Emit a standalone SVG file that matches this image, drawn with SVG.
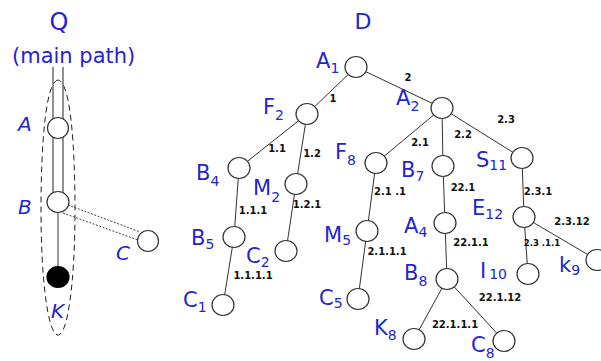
<svg xmlns="http://www.w3.org/2000/svg" width="601" height="361" viewBox="0 0 601 361">
<style>
.n{fill:#fff;stroke:#333;stroke-width:1.2}
.k{fill:#000;stroke:#000;stroke-width:1.2}
.e{stroke:#333;stroke-width:1;fill:none}
.dl{stroke:#555;stroke-width:1.3;fill:none}
.dot{stroke:#444;stroke-width:1;stroke-dasharray:2 1.5;fill:none}
.dash{stroke:#222;stroke-width:1;stroke-dasharray:6 4;fill:none}
.lbl{font-family:"DejaVu Sans",sans-serif;font-size:21px;fill:#2424d0}
.it{font-style:italic;font-size:20px}
.sub{font-size:14px}
.el{font-family:"DejaVu Sans",sans-serif;font-weight:bold;font-size:10px;fill:#111;text-anchor:middle}
</style>
<rect width="601" height="361" fill="#fff"/>
<text class="lbl" x="59" y="30" text-anchor="middle" style="font-size:24px">Q</text>
<text class="lbl" x="12" y="63" style="font-size:21px">(main path)</text>
<text class="lbl" x="363" y="29" text-anchor="middle" style="font-size:22px">D</text>

<g id="connectors">
  <path class="dash" d="M58,80 C45,82 41,150 41,210 C41,280 48,335 58,335 C68,335 75,280 75,210 C75,150 71,82 58,80 Z"/>
  <line class="dl" x1="53" y1="67" x2="53" y2="202"/>
  <line class="dl" x1="63" y1="67" x2="63" y2="202"/>
  <line class="e" x1="58" y1="202" x2="58" y2="277"/>
  <line class="dot" x1="68" y1="205" x2="140" y2="232"/>
  <line class="dot" x1="63" y1="213" x2="138" y2="240"/>

  <line class="e" x1="356" y1="67" x2="307" y2="114"/>
  <line class="e" x1="356" y1="67" x2="442" y2="108"/>
  <line class="e" x1="307" y1="114" x2="239" y2="168"/>
  <line class="e" x1="307" y1="114" x2="296" y2="184"/>
  <line class="e" x1="442" y1="108" x2="376" y2="163"/>
  <line class="e" x1="442" y1="108" x2="443" y2="166"/>
  <line class="e" x1="442" y1="108" x2="522" y2="158"/>
  <line class="e" x1="239" y1="168" x2="234" y2="237"/>
  <line class="e" x1="296" y1="184" x2="286" y2="251"/>
  <line class="e" x1="234" y1="237" x2="223" y2="305"/>
  <line class="e" x1="376" y1="163" x2="367" y2="231"/>
  <line class="e" x1="367" y1="231" x2="358" y2="299"/>
  <line class="e" x1="443" y1="166" x2="445" y2="223"/>
  <line class="e" x1="445" y1="223" x2="447" y2="279"/>
  <line class="e" x1="447" y1="279" x2="414" y2="339"/>
  <line class="e" x1="447" y1="279" x2="504" y2="341"/>
  <line class="e" x1="522" y1="158" x2="524" y2="217"/>
  <line class="e" x1="524" y1="217" x2="528" y2="274"/>
  <line class="e" x1="524" y1="217" x2="597" y2="260"/>

  <text class="el" x="333" y="102">1</text>
  <text class="el" x="408" y="81">2</text>
  <text class="el" x="277" y="152">1.1</text>
  <text class="el" x="312" y="157">1.2</text>
  <text class="el" x="253" y="214">1.1.1</text>
  <text class="el" x="307" y="208">1.2.1</text>
  <text class="el" x="253" y="279">1.1.1.1</text>
  <text class="el" x="420" y="146">2.1</text>
  <text class="el" x="463" y="138">2.2</text>
  <text class="el" x="506" y="123">2.3</text>
  <text class="el" x="390" y="195">2.1 .1</text>
  <text class="el" x="463" y="191">22.1</text>
  <text class="el" x="538" y="195">2.3.1</text>
  <text class="el" x="387" y="255">2.1.1.1</text>
  <text class="el" x="471" y="246">22.1.1</text>
  <text class="el" x="572" y="225">2.3.12</text>
  <text class="el" x="542" y="246" style="font-size:8.5px">2.3 .1.1</text>
  <text class="el" x="500" y="301">22.1.12</text>
  <text class="el" x="455" y="328">22.1.1.1</text>
</g>

<g id="qA"><ellipse class="n" cx="58" cy="128" rx="10.5" ry="10.5"/><text class="lbl it" x="18" y="131">A</text></g>
<g id="qB"><ellipse class="n" cx="58" cy="202" rx="11" ry="10.5"/><text class="lbl it" x="18" y="214">B</text></g>
<g id="qK"><ellipse class="k" cx="58" cy="277" rx="11" ry="10.5"/><text class="lbl it" x="51" y="318">K</text></g>
<g id="qC"><ellipse class="n" cx="148" cy="241" rx="10.5" ry="10.5"/><text class="lbl it" x="116" y="260">C</text></g>

<g id="A1"><ellipse class="n" cx="356" cy="67" rx="11" ry="10.5"/><text class="lbl" x="316" y="68">A<tspan class="sub" dy="5">1</tspan></text></g>
<g id="A2"><ellipse class="n" cx="442" cy="108" rx="11" ry="10.5"/><text class="lbl" x="396" y="105">A<tspan class="sub" dy="6">2</tspan></text></g>
<g id="F2"><ellipse class="n" cx="307" cy="114" rx="11" ry="10.5"/><text class="lbl" x="263" y="114">F<tspan class="sub" dy="6">2</tspan></text></g>
<g id="B4"><ellipse class="n" cx="239" cy="168" rx="11" ry="10.5"/><text class="lbl" x="196" y="180">B<tspan class="sub" dy="6">4</tspan></text></g>
<g id="M2"><ellipse class="n" cx="296" cy="184" rx="11" ry="10.5"/><text class="lbl" x="253" y="195">M<tspan class="sub" dy="7">2</tspan></text></g>
<g id="F8"><ellipse class="n" cx="376" cy="163" rx="11" ry="10.5"/><text class="lbl" x="335" y="159">F<tspan class="sub" dy="6">8</tspan></text></g>
<g id="B7"><ellipse class="n" cx="443" cy="166" rx="11" ry="10.5"/><text class="lbl" x="401" y="177">B<tspan class="sub" dy="4">7</tspan></text></g>
<g id="S11"><ellipse class="n" cx="522" cy="158" rx="11" ry="10.5"/><text class="lbl" x="476" y="167">S<tspan class="sub" dy="3">11</tspan></text></g>
<g id="B5"><ellipse class="n" cx="234" cy="237" rx="11" ry="10.5"/><text class="lbl" x="191" y="245">B<tspan class="sub" dy="4">5</tspan></text></g>
<g id="C2"><ellipse class="n" cx="286" cy="251" rx="11" ry="10.5"/><text class="lbl" x="246" y="263">C<tspan class="sub" dy="4">2</tspan></text></g>
<g id="C1"><ellipse class="n" cx="223" cy="305" rx="11" ry="10.5"/><text class="lbl" x="183" y="307">C<tspan class="sub" dy="5">1</tspan></text></g>
<g id="M5"><ellipse class="n" cx="367" cy="231" rx="11" ry="10.5"/><text class="lbl" x="324" y="242">M<tspan class="sub" dy="3">5</tspan></text></g>
<g id="C5"><ellipse class="n" cx="358" cy="299" rx="11" ry="10.5"/><text class="lbl" x="319" y="305">C<tspan class="sub" dy="3">5</tspan></text></g>
<g id="A4"><ellipse class="n" cx="445" cy="223" rx="11" ry="10.5"/><text class="lbl" x="404" y="233">A<tspan class="sub" dy="4">4</tspan></text></g>
<g id="B8"><ellipse class="n" cx="447" cy="279" rx="11" ry="10.5"/><text class="lbl" x="404" y="280">B<tspan class="sub" dy="6">8</tspan></text></g>
<g id="K8"><ellipse class="n" cx="414" cy="339" rx="11" ry="10.5"/><text class="lbl" x="374" y="335">K<tspan class="sub" dy="5">8</tspan></text></g>
<g id="C8"><ellipse class="n" cx="504" cy="341" rx="11" ry="10.5"/><text class="lbl" x="471" y="352">C<tspan class="sub" dy="6">8</tspan></text></g>
<g id="E12"><ellipse class="n" cx="524" cy="217" rx="11" ry="10.5"/><text class="lbl" x="472" y="215">E<tspan class="sub" dy="4">12</tspan></text></g>
<g id="I10"><ellipse class="n" cx="528" cy="274" rx="11" ry="10.5"/><text class="lbl" x="480" y="278">I<tspan class="sub" dx="3" dy="1">10</tspan></text></g>
<g id="k9"><ellipse class="n" cx="597" cy="260" rx="11" ry="10.5"/><text class="lbl" x="559" y="272">k<tspan class="sub" dy="3">9</tspan></text></g>
</svg>
